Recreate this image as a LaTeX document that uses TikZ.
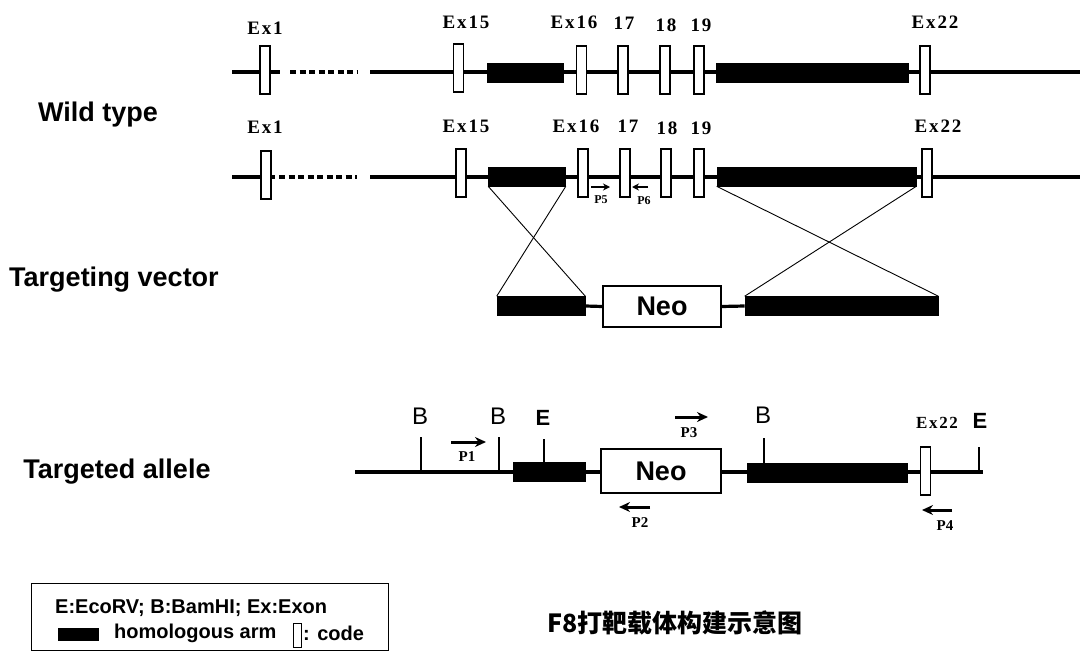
\documentclass[tikz,border=0pt]{standalone}
\usepackage{fontspec}
\setmainfont{Liberation Serif}
\newfontfamily\arial{Liberation Sans}
\newfontfamily\exfont{Liberation Serif}[LetterSpace=10]
\newfontfamily\cjk{Noto Sans CJK SC}
\usetikzlibrary{arrows.meta}
\begin{document}
\begin{tikzpicture}[x=1pt,y=-1pt,
  dna/.style={line width=3.2pt},
  dnadash/.style={line width=3.4pt,dash pattern=on 6pt off 3.5pt},
  exon/.style={draw,fill=white,line width=1.2pt,minimum width=10pt,minimum height=48pt,inner sep=0pt},
  arm/.style={fill=black,draw=black,line width=0.6pt,inner sep=0pt,minimum height=19pt},
  neo/.style={draw,fill=white,line width=1.1pt,inner sep=0pt,minimum width=118pt,minimum height=41pt,font=\arial\bfseries\fontsize{27}{27}\selectfont},
  exlab/.style={font=\exfont\bfseries\fontsize{19}{19}\selectfont,inner sep=0pt},
  plab/.style={font=\bfseries\fontsize{15}{15}\selectfont,inner sep=0pt},
  plabs/.style={font=\bfseries\fontsize{12}{12}\selectfont,inner sep=0pt},
  rowlab/.style={font=\arial\bfseries\fontsize{27}{27}\selectfont,inner sep=0pt},
  blab/.style={font=\arial\fontsize{24}{24}\selectfont,inner sep=0pt},
  elab/.style={font=\arial\bfseries\fontsize{22}{22}\selectfont,inner sep=0pt},
  legtext/.style={font=\arial\bfseries\fontsize{20}{20}\selectfont,inner sep=0pt,anchor=west},
  prim/.style={line width=3pt,-{Stealth[length=11pt,width=10pt]}},
  prims/.style={line width=2pt,-{Stealth[length=7pt,width=7pt]}},
  cross/.style={line width=0.9pt},
  tick/.style={line width=1.1pt}
]
\useasboundingbox (0,0) rectangle (1082,653);

% ---------- Row 1: wild type (upper) ----------
\coordinate (a0) at (232,72);
\coordinate (a1) at (280,72);
\coordinate (a2) at (290,72);
\coordinate (a3) at (357,72);
\coordinate (a4) at (370,72);
\coordinate (a5) at (1080,72);
\draw[dna] (a0) -- (a1);
\draw[dnadash] (a2) -- (a3);
\draw[dna] (a4) -- (a5);
\node[exon] (e1a) at (265,70) {};
\node[exon] (e15a) at (458.5,68) {};
\node[arm,minimum width=76pt] (arm1a) at (525,73) {};
\node[exon] (e16a) at (581.5,70) {};
\node[exon] (e17a) at (623,70) {};
\node[exon] (e18a) at (665,70) {};
\node[exon] (e19a) at (699,70) {};
\node[arm,minimum width=192pt] (arm2a) at (812,72.5) {};
\node[exon] (e22a) at (925,70) {};
\node[exlab] (l1a) at (265,28) {Ex1};
\node[exlab] (l15a) at (466,22) {Ex15};
\node[exlab] (l16a) at (574,22) {Ex16};
\node[exlab] (l17a) at (624,23) {17};
\node[exlab] (l18a) at (666,25) {18};
\node[exlab] (l19a) at (701,25) {19};
\node[exlab] (l22a) at (935,22) {Ex22};

% ---------- Row 2: wild type (lower) ----------
\coordinate (b0) at (232,177);
\coordinate (b1) at (275,177);
\coordinate (b2) at (279,177);
\coordinate (b3) at (357,177);
\coordinate (b4) at (370,177);
\coordinate (b5) at (1080,177);
\draw[dna] (b0) -- (b1);
\draw[dnadash] (b2) -- (b3);
\draw[dna] (b4) -- (b5);
\node[exon] (e1b) at (266,175) {};
\node[exon] (e15b) at (461,173) {};
\node[arm,minimum width=77pt] (arm1b) at (527,176.5) {};
\node[exon] (e16b) at (583,173) {};
\node[exon] (e17b) at (625,173) {};
\node[exon] (e18b) at (666,173) {};
\node[exon] (e19b) at (699,173) {};
\node[arm,minimum width=199pt] (arm2b) at (816.5,176.5) {};
\node[exon] (e22b) at (927,173) {};
\node[exlab] (l1b) at (265,127) {Ex1};
\node[exlab] (l15b) at (466,126) {Ex15};
\node[exlab] (l16b) at (576,126) {Ex16};
\node[exlab] (l17b) at (628,126) {17};
\node[exlab] (l18b) at (667,128) {18};
\node[exlab] (l19b) at (701,128) {19};
\node[exlab] (l22b) at (938,126) {Ex22};
\coordinate (p5s) at (591,187);
\coordinate (p5e) at (610,187);
\draw[prims] (p5s) -- (p5e);
\node[plabs] (p5) at (601,200) {P5};
\coordinate (p6s) at (648,187);
\coordinate (p6e) at (632,187);
\draw[prims] (p6s) -- (p6e);
\node[plabs] (p6) at (644,201) {P6};

% ---------- Targeting vector ----------
\node[arm,minimum width=88pt] (tvL) at (541,306) {};
\node[neo] (neo1) at (662,306.5) {Neo};
\node[arm,minimum width=193pt] (tvR) at (841.5,306) {};
\draw[dna] (tvL.east) -- (neo1.west);
\draw[dna] (neo1.east) -- (tvR.west);
\draw[cross] (arm1b.south west) -- (tvL.north east);
\draw[cross] (arm1b.south east) -- (tvL.north west);
\draw[cross] (arm2b.south west) -- (tvR.north east);
\draw[cross] (arm2b.south east) -- (tvR.north west);

% ---------- Targeted allele ----------
\coordinate (c0) at (355,472);
\coordinate (c1) at (983,472);
\draw[dna] (c0) -- (c1);
\node[arm,minimum width=72pt] (taL) at (549,472) {};
\node[neo,minimum width=120pt,minimum height=44pt] (neo2) at (661,471) {Neo};
\node[arm,minimum width=160pt] (taR) at (827,473) {};
\node[exon] (e22c) at (925.5,471) {};
\coordinate (t1a) at (421,437);
\coordinate (t1b) at (421,472);
\coordinate (t2a) at (499,437);
\coordinate (t2b) at (499,472);
\coordinate (t3a) at (544,439);
\coordinate (t3b) at (544,463);
\coordinate (t4a) at (764,438);
\coordinate (t4b) at (764,463);
\coordinate (t5a) at (979,447);
\coordinate (t5b) at (979,472);
\draw[tick] (t1a) -- (t1b);
\draw[tick] (t2a) -- (t2b);
\draw[tick] (t3a) -- (t3b);
\draw[tick] (t4a) -- (t4b);
\draw[tick] (t5a) -- (t5b);
\node[blab] (B1) at (420,416) {B};
\node[blab] (B2) at (498,416) {B};
\node[elab] (E1) at (543,418) {E};
\node[blab] (B3) at (763,415) {B};
\node[elab] (E2) at (980,421) {E};
\node[exlab,font=\exfont\bfseries\fontsize{17}{17}\selectfont] (l22c) at (937,423) {Ex22};
\coordinate (p1s) at (451,442);
\coordinate (p1e) at (486,442);
\draw[prim] (p1s) -- (p1e);
\node[plab] (p1) at (467,457) {P1};
\coordinate (p3s) at (675,417);
\coordinate (p3e) at (708,417);
\draw[prim] (p3s) -- (p3e);
\node[plab] (p3) at (689,433) {P3};
\coordinate (p2s) at (650,507);
\coordinate (p2e) at (619,507);
\draw[prim] (p2s) -- (p2e);
\node[plab] (p2) at (640,523) {P2};
\coordinate (p4s) at (952,510);
\coordinate (p4e) at (922,510);
\draw[prim] (p4s) -- (p4e);
\node[plab] (p4) at (945,526) {P4};

% ---------- Row labels ----------
\node[rowlab] (wt) at (98,115) {Wild type};
\node[rowlab] (tv) at (114,280) {Targeting vector};
\node[rowlab] (ta) at (117,472) {Targeted allele};

% ---------- Legend ----------
\node[draw,line width=1pt,minimum width=357pt,minimum height=67pt,inner sep=0pt] (leg) at (209.5,617) {};
\node[legtext] (leg1) at (55,608) {E:EcoRV; B:BamHI; Ex:Exon};
\node[arm,minimum width=40pt,minimum height=12pt] (legarm) at (78,634) {};
\node[legtext] (leg2) at (114,633) {homologous arm};
\node[draw,line width=0.9pt,minimum width=8pt,minimum height=24pt,inner sep=0pt] (legex) at (297,635) {};
\node[legtext] (leg3) at (303,633) {: code};

% ---------- Caption ----------
\node[font=\cjk\bfseries\fontsize{25}{25}\selectfont,inner sep=0pt] (cap) at (675,623) {F8打靶载体构建示意图};
\end{tikzpicture}
\end{document}
